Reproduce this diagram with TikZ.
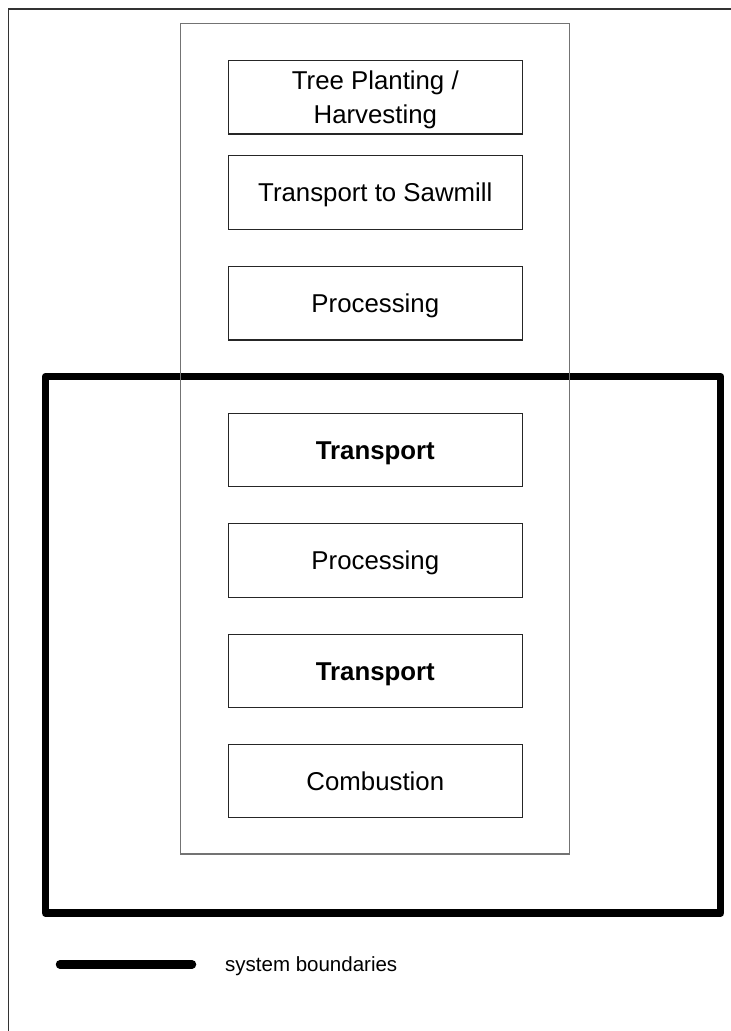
\documentclass[tikz,border=0pt]{standalone}
\usepackage{fontspec}
\setmainfont{Liberation Sans}
\begin{document}
\begin{tikzpicture}[x=1pt,y=-1pt,
  boxfont/.style={font=\fontsize{25.8}{34}\selectfont},
  stepbox/.style={draw=black!85, line width=1.1pt, fill=white,
    minimum width=294, minimum height=73.5, inner sep=0pt,
    boxfont, text=black},
  oneline/.style={text height=21pt, text depth=2.6pt},
  boundary/.style={line width=7.5pt, line join=round, black},
  column/.style={draw=black!55, line width=1.1pt},
  frame/.style={draw=black!80, line width=1.3pt}]
\useasboundingbox (0,0) rectangle (731,1031);
\clip (0,0) rectangle (731,1031);
\fill[white] (0,0) rectangle (731,1031);

% page frame (right and bottom sides fall outside the page)
\draw[frame] (8.5,1040) -- (8.5,9) -- (745,9);

% system boundary
\draw[boundary] (45.5,376.5) rectangle (720.7,913);

% process chain column
\draw[column] (180.7,23.7) rectangle (569.7,854);

% process steps
\node[stepbox, align=center, text depth=0pt] (plant) at (375.3,97.2) {Tree Planting /\\Harvesting};
\node[stepbox, oneline] (tsaw) at (375.3,192.5) {Transport to Sawmill};
\node[stepbox, oneline] (proc1) at (375.3,303.2) {Processing};
\node[stepbox, oneline] (tr1) at (375.3,450.1) {\bfseries Transport};
\node[stepbox, oneline] (proc2) at (375.3,560.4) {Processing};
\node[stepbox, oneline] (tr2) at (375.3,670.8) {\bfseries Transport};
\node[stepbox, oneline] (comb) at (375.3,780.9) {Combustion};

% legend
\coordinate (legA) at (60,964.3);
\coordinate (legB) at (192,964.3);
\draw[line width=8.5pt, line cap=round] (legA) -- (legB);
\node[anchor=base west, inner sep=0pt, font=\fontsize{20.5}{24}\selectfont] (legtext) at (225,971) {system boundaries};
\end{tikzpicture}
\end{document}
